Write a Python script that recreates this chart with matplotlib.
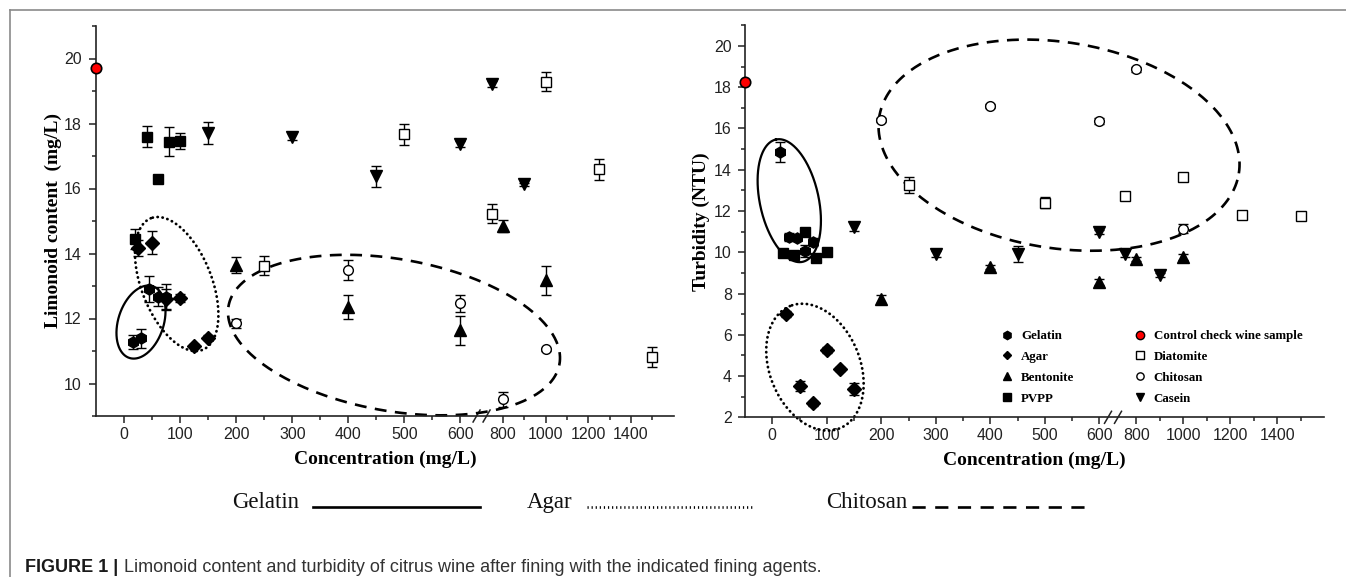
import numpy as np
import matplotlib
matplotlib.use("Agg")
import matplotlib.pyplot as plt
from matplotlib.lines import Line2D

plt.rcParams['font.family'] = ['Liberation Sans', 'DejaVu Sans']

# ---- data ----
gel_x = [15, 30, 45, 60, 75]
agar_x = [25, 50, 75, 100, 125, 150]
pvpp_x = [20, 40, 60, 80, 100]
bent_x = [200, 400, 600, 800, 1000]
diat_x = [250, 500, 750, 1000, 1250, 1500]
chit_x = [200, 400, 600, 800, 1000]
cas_x = [150, 300, 450, 600, 750, 900]
ctrl_x = [-50]

# limonoid content (mg/L)
ctrl_lim = [19.7]
gel_lim = [11.28, 11.39, 12.91, 12.67, 12.65]
gel_lim_err = [0.22, 0.3, 0.4, 0.3, 0.4]
agar_lim = [14.16, 14.33, 12.6, 12.64, 11.15, 11.41]
agar_lim_err = [0.25, 0.35, 0.3, 0.12, 0.06, 0.08]
pvpp_lim = [14.45, 17.6, 16.3, 17.44, 17.47]
pvpp_lim_err = [0.3, 0.33, 0.05, 0.44, 0.25]
bent_lim = [13.65, 12.36, 11.64, 14.85, 13.18]
bent_lim_err = [0.25, 0.37, 0.45, 0.18, 0.45]
diat_lim = [13.63, 17.67, 15.23, 19.29, 16.59, 10.82]
diat_lim_err = [0.29, 0.32, 0.29, 0.29, 0.33, 0.31]
chit_lim = [11.85, 13.49, 12.47, 9.52, 11.05]
chit_lim_err = [0.15, 0.31, 0.26, 0.23, 0.05]
cas_lim = [17.7, 17.6, 16.37, 17.37, 19.21, 16.13]
cas_lim_err = [0.34, 0.1, 0.33, 0.1, 0.1, 0.05]

# turbidity (NTU)
ctrl_tur = [18.26]
gel_tur = [14.85, 10.75, 10.68, 10.05, 10.5]
gel_tur_err = [0.48, 0.2, 0.1, 0.3, 0.2]
agar_tur = [6.99, 3.53, 2.67, 5.26, 4.32, 3.37]
agar_tur_err = [0.15, 0.25, 0.1, 0.15, 0.1, 0.3]
pvpp_tur = [9.95, 9.85, 11.0, 9.7, 10.0]
pvpp_tur_err = [0.1, 0.1, 0.15, 0.1, 0.1]
bent_tur = [7.73, 9.29, 8.57, 9.67, 9.78]
bent_tur_err = [0.2, 0.1, 0.15, 0.1, 0.15]
diat_tur = [13.25, 12.41, 12.73, 13.65, 11.8, 11.75]
diat_tur_err = [0.4, 0.25, 0.1, 0.2, 0.15, 0.1]
chit_tur = [16.4, 17.08, 16.35, 18.86, 11.15]
chit_tur_err = [0.1, 0.1, 0.15, 0.1, 0.2]
cas_tur = [11.23, 9.91, 9.91, 10.99, 9.91, 8.89]
cas_tur_err = [0.2, 0.15, 0.4, 0.1, 0.15, 0.1]

major_x = [0, 100, 200, 300, 400, 500, 600, 800, 1000, 1200, 1400]
minor_x = [50, 150, 250, 350, 450, 550, 900, 1100, 1300, 1500]

SERIF = 'Liberation Serif'


def make_break(b, k):
    # broken x axis: linear up to b, then compressed from 700 on
    def fwd(x):
        x = np.asarray(x, float)
        return np.where(x <= b, x, np.where(x >= 700, b + (x - 700) * k, b))

    def inv(y):
        y = np.asarray(y, float)
        return np.where(y <= b, y, 700 + (y - b) / k)
    return fwd, inv


def style(ax, b, k, ylim, yticks, yminor, ypad):
    ax.set_xscale('function', functions=make_break(b, k))
    ax.set_xlim(-50, 1600)
    ax.set_ylim(*ylim)
    ax.set_xticks(major_x)
    ax.set_xticks(minor_x, minor=True)
    ax.set_yticks(yticks)
    ax.set_yticks(yminor, minor=True)
    for s in ['top', 'right']:
        ax.spines[s].set_visible(False)
    for s in ['left', 'bottom']:
        ax.spines[s].set_linewidth(1.2)
        ax.spines[s].set_color('#222222')
    ax.tick_params(which='major', length=5, width=1.1, labelsize=11.5,
                   colors='#222222')
    ax.tick_params(which='minor', length=3, width=1.1, colors='#222222')
    ax.tick_params(axis='x', pad=3)
    ax.tick_params(axis='y', pad=ypad)
    # break marks
    x0, y0 = ax.transData.transform((b, ylim[0]))
    for off in (-5, 5):
        pts = np.array([[x0 + off - 3.5, y0 - 6], [x0 + off + 3.5, y0 + 6]])
        pa = ax.transAxes.inverted().transform(pts)
        ax.plot(pa[:, 0], pa[:, 1], color='#222222', lw=1.1,
                transform=ax.transAxes, clip_on=False)


def ellipse(ax, cx, cy, a, b, ang, **kw):
    c = ax.transData.transform((cx, cy))
    t = np.linspace(0, 2 * np.pi, 400)
    th = np.deg2rad(ang)
    px = a * np.cos(t) * np.cos(th) - b * np.sin(t) * np.sin(th) + c[0]
    py = a * np.cos(t) * np.sin(th) + b * np.sin(t) * np.cos(th) + c[1]
    pa = ax.transAxes.inverted().transform(np.column_stack([px, py]))
    ax.plot(pa[:, 0], pa[:, 1], color='black', transform=ax.transAxes,
            clip_on=False, **kw)


def draw(ax, vals):
    eb = dict(ecolor='black', elinewidth=1, capsize=3.5, capthick=1,
              ls='none', zorder=3)
    ax.errorbar(ctrl_x, vals['ctrl'], fmt='o', ms=7.5, mfc='red', mec='black',
                mew=1.2, clip_on=False, ls='none', zorder=5)
    ax.errorbar(bent_x, vals['bent'][0], yerr=vals['bent'][1], fmt='^', ms=8,
                color='black', **eb)
    ax.errorbar(diat_x, vals['diat'][0], yerr=vals['diat'][1], fmt='s', ms=6.5,
                mfc='white', mec='black', mew=1, **eb)
    ax.errorbar(chit_x, vals['chit'][0], yerr=vals['chit'][1], fmt='o', ms=7,
                mfc='white', mec='black', mew=1, **eb)
    ax.errorbar(cas_x, vals['cas'][0], yerr=vals['cas'][1], fmt='v', ms=8,
                color='black', **eb)
    ax.errorbar(pvpp_x, vals['pvpp'][0], yerr=vals['pvpp'][1], fmt='s', ms=7.5,
                color='black', **eb)
    ax.errorbar(agar_x, vals['agar'][0], yerr=vals['agar'][1], fmt='D', ms=6.8,
                color='black', **eb)
    ax.errorbar(gel_x, vals['gel'][0], yerr=vals['gel'][1], fmt='h', ms=8,
                color='black', **eb)


fig = plt.figure(figsize=(13.46, 5.77), dpi=100)
W, H = 1346, 577
axL = fig.add_axes([96.3 / W, 1 - 416 / H, 577.3 / W, 390 / H])
axR = fig.add_axes([745 / W, 1 - 417.3 / H, 579 / W, 392 / H])

style(axL, 638, 0.381, (9, 21), range(10, 21, 2), range(9, 22, 2), 5.5)
style(axR, 625, 0.43, (2, 21), range(2, 21, 2), range(3, 22, 2), 4.5)

draw(axL, dict(ctrl=ctrl_lim, gel=(gel_lim, gel_lim_err),
               agar=(agar_lim, agar_lim_err), pvpp=(pvpp_lim, pvpp_lim_err),
               bent=(bent_lim, bent_lim_err), diat=(diat_lim, diat_lim_err),
               chit=(chit_lim, chit_lim_err), cas=(cas_lim, cas_lim_err)))
draw(axR, dict(ctrl=ctrl_tur, gel=(gel_tur, gel_tur_err),
               agar=(agar_tur, agar_tur_err), pvpp=(pvpp_tur, pvpp_tur_err),
               bent=(bent_tur, bent_tur_err), diat=(diat_tur, diat_tur_err),
               chit=(chit_tur, chit_tur_err), cas=(cas_tur, cas_tur_err)))

# grouping ellipses
solid = dict(lw=1.6)
dotted = dict(lw=2.0, dashes=(0.1, 1.7), dash_capstyle='round')
dashed = dict(lw=1.9, dashes=(4.5, 3.2))
ellipse(axL, 29.8, 11.89, 37.7, 22.7, 72, **solid)
ellipse(axL, 93.6, 13.06, 70.7, 35.2, 111.4, **dotted)
ellipse(axL, 481.6, 11.49, 168, 76, -9.9, **dashed)
ellipse(axR, 31.2, 12.5, 62.6, 29.4, 102.3, **solid)
ellipse(axR, 78.3, 4.43, 66, 45.2, 112.2, **dotted)
ellipse(axR, 526, 15.19, 182, 103, -8.9, **dashed)

lab = dict(family=SERIF, weight='bold', fontsize=14)
axL.set_ylabel('Limonoid content  (mg/L)', labelpad=1, **lab)
axR.set_ylabel('Turbidity (NTU)', labelpad=2.5, **lab)
axL.set_xlabel('Concentration (mg/L)', labelpad=6, **lab)
axR.set_xlabel('Concentration (mg/L)', labelpad=6, **lab)

# legend
names = ['Gelatin', 'Agar', 'Bentonite', 'PVPP',
         'Control check wine sample', 'Diatomite', 'Chitosan', 'Casein']
marks = [('h', 'black', 8), ('D', 'black', 6), ('^', 'black', 8),
         ('s', 'black', 7), ('o', 'red', 8), ('s', 'white', 7),
         ('o', 'white', 7), ('v', 'black', 8)]
handles = [Line2D([], [], ls='none', marker=m, mfc=fc, mec='black', ms=s,
                  mew=1) for m, fc, s in marks]
axR.legend(handles, names, loc='upper left', ncol=2, frameon=False,
           bbox_to_anchor=(1001 / W, 1 - 330 / H), bbox_transform=fig.transFigure,
           handlelength=1.0, handletextpad=0.55, columnspacing=4.6,
           labelspacing=0.68, borderpad=0, borderaxespad=0, markerscale=0.75,
           prop=dict(family=SERIF, weight='bold', size=9.3))

# line style key under the panels
key = [('Gelatin', 232, 313, 480, dict(lw=1.9)),
       ('Agar', 527, 587, 754, dict(lw=1.9, dashes=(0.45, 1.1))),
       ('Chitosan', 826, 912, 1087, dict(lw=1.9, dashes=(5, 3.6)))]
for txt, tx, l0, l1, kw in key:
    fig.text(tx / W, 1 - 508 / H, txt, family=SERIF, fontsize=16.5,
             va='baseline', color='#111111')
    fig.add_artist(Line2D([l0 / W, l1 / W], [1 - 507 / H, 1 - 507 / H],
                          color='black', transform=fig.transFigure, **kw))

# frame lines
fig.add_artist(Line2D([10 / W, 1], [1 - 10 / H, 1 - 10 / H], color='#8a8a8a',
                      lw=1.2, transform=fig.transFigure))
fig.add_artist(Line2D([10 / W, 10 / W], [0, 1 - 10 / H], color='#8a8a8a',
                      lw=1.2, transform=fig.transFigure))

# caption
t1 = fig.text(25 / W, 1 - 572 / H, 'FIGURE 1 |', fontsize=13, weight='bold',
              va='baseline', color='#1a1a1a')
plt.annotate('Limonoid content and turbidity of citrus wine after fining with '
             'the indicated fining agents.', xy=(1, 0), xycoords=t1,
             xytext=(4, 0), textcoords='offset points', va='bottom',
             fontsize=13, color='#333333', annotation_clip=False)

fig.savefig('out.png', dpi=100)
